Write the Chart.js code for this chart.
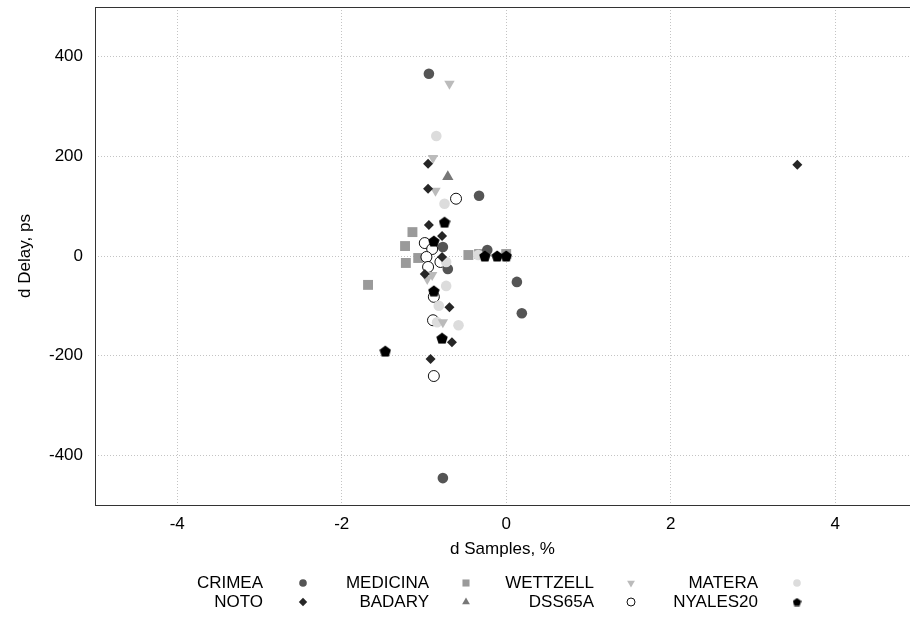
<!DOCTYPE html>
<html>
<head>
<meta charset="utf-8">
<script src="https://cdn.jsdelivr.net/npm/chart.js@4.4.1/dist/chart.umd.min.js"></script>
<style>
  html, body { margin: 0; padding: 0; background: #fff; }
</style>
</head>
<body>
<canvas id="chart" width="910" height="618"></canvas>
<script>
// axis ticks
const xTicks = [-4, -2, 0, 2, 4];
const yTicks = [-400, -200, 0, 200, 400];

// station series, x = d Samples (%), y = d Delay (ps)
const crimeaX = [-0.94, -0.33, -0.77, -0.23, -0.71, 0.13, 0.19, -0.77];
const crimeaY = [366, 121, 18, 12, -26, -52, -115, -446];

const medicinaX = [-1.14, -1.23, -1.07, -1.22, -1.68, -0.46, -0.33, 0.0];
const medicinaY = [48, 20, -4, -14, -58, 2, 4, 4];

const wettzellX = [-0.69, -0.89, -0.86, -0.90, -0.96, -0.77];
const wettzellY = [346, 197, 131, -38, -46, -133];

const materaX = [-0.85, -0.75, -0.73, -0.73, -0.82, -0.84, -0.58, -0.34];
const materaY = [241, 105, -12, -60, -100, -133, -139, 2];

const notoX = [-0.95, -0.95, -0.94, -0.78, -0.78, -0.99, -0.69, -0.66, -0.92, 3.54];
const notoY = [185, 135, 62, 40, -2, -36, -103, -173, -207, 183];

const badaryX = [-0.71];
const badaryY = [159];

const dss65aX = [-0.61, -0.99, -0.90, -0.97, -0.80, -0.95, -0.88, -0.89, -0.88];
const dss65aY = [115, 26, 14, -2, -12, -22, -82, -129, -241];

const nyalesX = [-0.75, -0.88, -0.88, -0.78, -1.47, -0.26, -0.11, 0.0];
const nyalesY = [68, 30, -70, -165, -191, 0, 0, 0];

const FONT = '"Liberation Sans", Arial, sans-serif';

function pts(xs, ys) {
  return xs.map((x, i) => ({ x: x, y: ys[i] }));
}

// pentagon marker, Chart.js has no built in one
function pentagon(size, color) {
  const c = document.createElement('canvas');
  c.width = size;
  c.height = size;
  const g = c.getContext('2d');
  const r = size / 2;
  const cy = r + r * 0.1;
  g.beginPath();
  for (let i = 0; i < 5; i++) {
    const a = -Math.PI / 2 + i * 2 * Math.PI / 5;
    const px = r + r * Math.cos(a);
    const py = cy + r * Math.sin(a);
    if (i === 0) g.moveTo(px, py); else g.lineTo(px, py);
  }
  g.closePath();
  g.fillStyle = color;
  g.fill();
  return c;
}

const pentBig = pentagon(12, '#000');
const pentSmall = pentagon(9, '#000');

const datasets = [
  { label: 'CRIMEA', data: pts(crimeaX, crimeaY), pointStyle: 'circle', pointRadius: 5.3,
    backgroundColor: '#555', borderWidth: 0, order: 7, legendRadius: 3.8 },
  { label: 'MEDICINA', data: pts(medicinaX, medicinaY), pointStyle: 'rect', pointRadius: 7,
    backgroundColor: '#9a9a9a', borderWidth: 0, order: 8, legendRadius: 5 },
  { label: 'WETTZELL', data: pts(wettzellX, wettzellY), pointStyle: 'triangle', rotation: 180, pointRadius: 6,
    backgroundColor: '#bbb', borderWidth: 0, order: 4, legendRadius: 4.5 },
  { label: 'MATERA', data: pts(materaX, materaY), pointStyle: 'circle', pointRadius: 5.3,
    backgroundColor: '#dcdcdc', borderWidth: 0, order: 5, legendRadius: 3.8 },
  { label: 'NOTO', data: pts(notoX, notoY), pointStyle: 'rectRot', pointRadius: 5,
    backgroundColor: '#262626', borderWidth: 0, order: 2, legendRadius: 4.2 },
  { label: 'BADARY', data: pts(badaryX, badaryY), pointStyle: 'triangle', pointRadius: 6.5,
    backgroundColor: '#777', borderWidth: 0, order: 3, legendRadius: 4.5 },
  { label: 'DSS65A', data: pts(dss65aX, dss65aY), pointStyle: 'circle', pointRadius: 5.5,
    backgroundColor: '#fff', borderColor: '#111', borderWidth: 1, order: 6, legendRadius: 4 },
  { label: 'NYALES20', data: pts(nyalesX, nyalesY), pointStyle: pentBig, pointRadius: 6,
    backgroundColor: '#000', borderWidth: 0, order: 1, legendStyle: pentSmall }
];

// legend: 4 columns, 2 rows, label then marker
const legendTextRight = [263, 429, 594, 758];
const legendMarkX = [303, 466, 631, 797];
const legendRowY = [583, 602];

const legendPlugin = {
  id: 'stationLegend',
  afterDraw(chart) {
    const ctx = chart.ctx;
    const drawPoint = Chart.helpers && Chart.helpers.drawPoint;
    ctx.save();
    ctx.font = '17px ' + FONT;
    ctx.textAlign = 'right';
    ctx.textBaseline = 'middle';
    chart.data.datasets.forEach((ds, i) => {
      const col = i % 4, row = Math.floor(i / 4);
      const y = legendRowY[row];
      ctx.fillStyle = '#000';
      ctx.fillText(ds.label, legendTextRight[col], y);
      const mx = legendMarkX[col];
      ctx.fillStyle = ds.backgroundColor;
      ctx.strokeStyle = ds.borderColor || ds.backgroundColor;
      ctx.lineWidth = ds.borderWidth || 0;
      if (drawPoint) {
        drawPoint(ctx, {
          pointStyle: ds.legendStyle || ds.pointStyle,
          rotation: ds.rotation || 0,
          radius: ds.legendRadius || 4,
          borderWidth: ds.borderWidth || 0
        }, mx, y);
      }
    });
    ctx.restore();
  }
};

// frame round the plot area
const framePlugin = {
  id: 'frame',
  beforeDatasetsDraw(chart) {
    const a = chart.chartArea;
    const ctx = chart.ctx;
    ctx.save();
    ctx.strokeStyle = '#333';
    ctx.lineWidth = 1;
    ctx.strokeRect(a.left + 0.5, a.top + 0.5, a.right - a.left, a.bottom - a.top);
    ctx.restore();
  }
};

new Chart(document.getElementById('chart'), {
  type: 'scatter',
  data: { datasets: datasets },
  options: {
    responsive: false,
    animation: false,
    layout: { autoPadding: false, padding: { top: 7, right: 0, left: 0, bottom: 0 } },
    plugins: {
      legend: { display: false },
      tooltip: { enabled: false }
    },
    scales: {
      x: {
        type: 'linear',
        min: -5,
        max: 4.91,
        afterBuildTicks: s => { s.ticks = xTicks.map(v => ({ value: v })); },
        afterFit: s => { s.height = 113; s.paddingLeft = 0; s.paddingRight = 0; },
        grid: { color: '#c4c4c4', drawTicks: false },
        border: { display: false, dash: [1, 2] },
        ticks: { color: '#000', padding: 9, font: { size: 17, family: FONT } },
        title: { display: true, text: 'd Samples, %', color: '#000',
                 font: { size: 17, family: FONT }, padding: { top: 0, bottom: 58 } }
      },
      y: {
        min: -500,
        max: 500,
        afterBuildTicks: s => { s.ticks = yTicks.map(v => ({ value: v })); },
        afterFit: s => { s.width = 95; s.paddingTop = 0; s.paddingBottom = 0; },
        grid: { color: '#c4c4c4', drawTicks: false },
        border: { display: false, dash: [1, 2] },
        ticks: { color: '#000', padding: 12, font: { size: 17, family: FONT } },
        title: { display: true, text: 'd Delay, ps', color: '#000',
                 font: { size: 17, family: FONT }, padding: { top: 15, bottom: 0 } }
      }
    }
  },
  plugins: [framePlugin, legendPlugin]
});
</script>
</body>
</html>
